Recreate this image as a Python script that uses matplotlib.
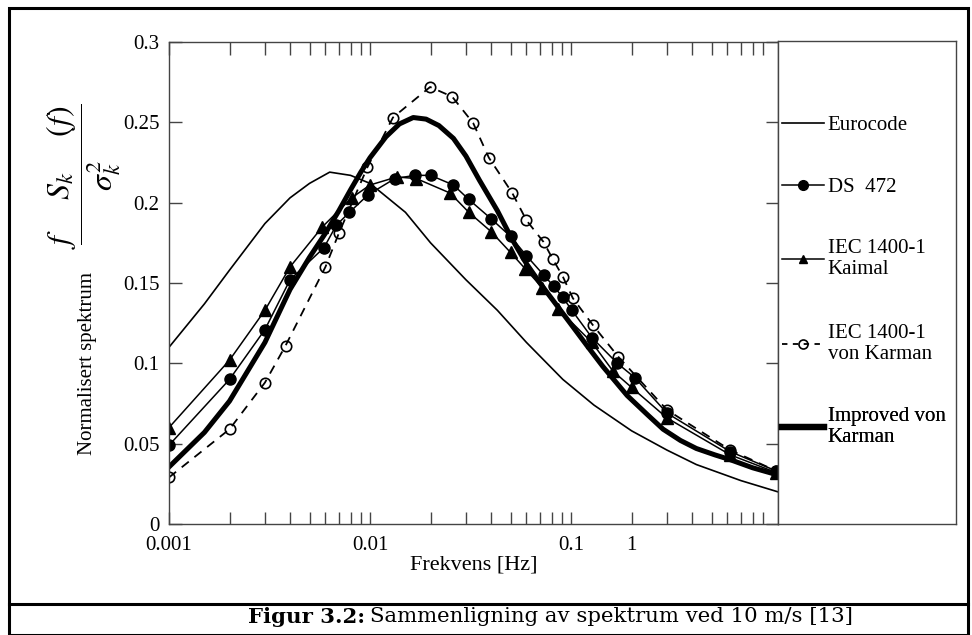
import matplotlib
matplotlib.use('Agg')
import matplotlib.pyplot as plt
from matplotlib.lines import Line2D
from matplotlib.patches import Rectangle

plt.rcParams['font.family'] = ['Liberation Serif', 'DejaVu Serif']
plt.rcParams['mathtext.fontset'] = 'stix'

# Eurocode (tynn linje)
f_euro = [0.001, 0.0015, 0.002, 0.003, 0.004, 0.005, 0.0063, 0.008, 0.01, 0.015, 0.02,
          0.03, 0.043, 0.06, 0.091, 0.13, 0.2, 0.3, 0.42, 0.7, 1.07]
s_euro = [0.110, 0.137, 0.158, 0.187, 0.203, 0.212, 0.219, 0.217, 0.212, 0.194, 0.175,
          0.152, 0.133, 0.113, 0.090, 0.074, 0.058, 0.046, 0.037, 0.027, 0.020]

# DS 472
f_ds = [0.001, 0.002, 0.003, 0.004, 0.0059, 0.0068, 0.0079, 0.0098, 0.0133, 0.0167, 0.02,
        0.026, 0.031, 0.040, 0.050, 0.060, 0.073, 0.082, 0.091, 0.101, 0.127, 0.170, 0.208,
        0.30, 0.62, 1.05]
s_ds = [0.049, 0.090, 0.121, 0.152, 0.172, 0.186, 0.194, 0.205, 0.215, 0.217, 0.217,
        0.211, 0.202, 0.190, 0.179, 0.167, 0.155, 0.148, 0.141, 0.133, 0.116, 0.100, 0.091,
        0.069, 0.045, 0.033]

# IEC 1400-1 Kaimal
f_ka = [0.001, 0.002, 0.003, 0.004, 0.0058, 0.0081, 0.01, 0.0136, 0.017, 0.025, 0.031,
        0.040, 0.050, 0.059, 0.072, 0.086, 0.127, 0.162, 0.20, 0.30, 0.62, 1.05]
s_ka = [0.060, 0.102, 0.133, 0.160, 0.185, 0.203, 0.211, 0.216, 0.215, 0.206, 0.194,
        0.182, 0.169, 0.159, 0.147, 0.134, 0.113, 0.095, 0.085, 0.066, 0.043, 0.032]

# IEC 1400-1 von Karman
f_vk = [0.001, 0.002, 0.003, 0.0038, 0.006, 0.007, 0.0097, 0.013, 0.0199, 0.0256, 0.0326,
        0.039, 0.051, 0.060, 0.073, 0.081, 0.091, 0.102, 0.128, 0.172, 0.30, 0.62, 1.05]
s_vk = [0.029, 0.059, 0.088, 0.111, 0.160, 0.181, 0.222, 0.253, 0.272, 0.266, 0.2495,
        0.228, 0.206, 0.189, 0.1755, 0.165, 0.154, 0.1406, 0.124, 0.104, 0.071, 0.046, 0.033]

# Improved von Karman (tykk linje)
f_imp = [0.001, 0.0015, 0.002, 0.003, 0.004, 0.005, 0.006, 0.007, 0.008, 0.009, 0.01,
         0.012, 0.014, 0.0164, 0.019, 0.022, 0.026, 0.03, 0.035, 0.043, 0.051, 0.06, 0.07,
         0.085, 0.099, 0.12, 0.144, 0.19, 0.24, 0.287, 0.35, 0.42, 0.52, 0.62, 0.8, 1.07]
s_imp = [0.0355, 0.057, 0.0765, 0.113, 0.146, 0.166, 0.181, 0.195, 0.208, 0.219, 0.228,
         0.241, 0.249, 0.253, 0.252, 0.248, 0.240, 0.229, 0.214, 0.195, 0.177, 0.162, 0.150,
         0.136, 0.125, 0.111, 0.098, 0.080, 0.068, 0.059, 0.052, 0.047, 0.043, 0.040, 0.035,
         0.0305]

xticks = [0.001, 0.01, 0.1, 0.2]
xticklabels = ['0.001', '0.01', '0.1', '1']
yticks = [0, 0.05, 0.1, 0.15, 0.2, 0.25, 0.3]
yticklabels = ['0', '0.05', '0.1', '0.15', '0.2', '0.25', '0.3']

W, H = 972, 635
fig = plt.figure(figsize=(W / 100, H / 100), dpi=100)

def fx(px):
    return px / W

def fy(py):
    return 1 - py / H

ax = fig.add_axes([fx(169), fy(524), fx(778) - fx(169), fy(42) - fy(524)])

ax.plot(f_euro, s_euro, color='black', lw=1.2)
ax.plot(f_ds, s_ds, color='black', lw=1.1, marker='o', ms=8, mfc='black', mec='black')
ax.plot(f_ka, s_ka, color='black', lw=1.1, marker='^', ms=8, mfc='black', mec='black')
ax.plot(f_vk, s_vk, color='black', lw=1.3, ls=(0, (5, 4)), marker='o', ms=7.5,
        mfc='none', mec='black', mew=1.2)
ax.plot(f_imp, s_imp, color='black', lw=3.6, solid_joinstyle='round')

ax.set_xscale('log')
ax.set_xlim(0.001, 1.07)
ax.set_ylim(0, 0.3)
ax.set_xticks(xticks)
ax.set_xticklabels(xticklabels)
ax.set_yticks(yticks)
ax.set_yticklabels(yticklabels)
ax.xaxis.set_minor_formatter(plt.NullFormatter())
ax.tick_params(which='both', direction='in', length=9, width=1, color='#444444',
               top=True, right=True, labelsize=15, pad=7)
ax.tick_params(axis='x', which='both', pad=9)
for sp in ax.spines.values():
    sp.set_color('#444444')
    sp.set_linewidth(1)

ax.set_xlabel('Frekvens [Hz]', fontsize=16, labelpad=0)
ax.set_ylabel('Normalisert spektrum', fontsize=15)
ax.yaxis.set_label_coords(-0.118, 0.332)
fig.text(fx(84), fy(176), r'$\dfrac{f\quad\;\; S_k\quad\;\; (f)}{\sigma_k^2}$', rotation=90,
         fontsize=23, ha='center', va='center')

# legend box
axl = fig.add_axes([fx(778), fy(524), fx(956) - fx(778), fy(41) - fy(524)])
axl.set_xticks([])
axl.set_yticks([])
for sp in axl.spines.values():
    sp.set_color('#444444')
    sp.set_linewidth(1)

handles = [
    Line2D([], [], color='black', lw=1.2),
    Line2D([], [], color='black', lw=1.1, marker='o', ms=7, mfc='black'),
    Line2D([], [], color='black', lw=1.1, marker='^', ms=6, mfc='black'),
    Line2D([], [], color='black', lw=1.3, ls=(0, (3, 3)), marker='o', ms=6.5,
           mfc='none', mew=1.2),
    Line2D([], [], color='black', lw=4.5),
]
labels = ['Eurocode', 'DS  472', 'IEC 1400-1\nKaimal', 'IEC 1400-1\nvon Karman',
          'Improved von\nKarman']
label_y = [125, 187, 259, 344, 427]

for h, lab, py in zip(handles, labels, label_y):
    leg = axl.legend([h], [lab], loc='center left',
                     bbox_to_anchor=(4 / 178, (524 - py) / 483),
                     frameon=False, fontsize=15, handlelength=2.0,
                     handletextpad=0.2, borderpad=0, borderaxespad=0,
                     labelspacing=0)
    axl.add_artist(leg)

# ytre ramme og figurtekst
fig.add_artist(Rectangle((fx(9), 0), fx(968) - fx(9), fy(8), transform=fig.transFigure,
                         fill=False, lw=2.2, ec='black'))
fig.add_artist(Line2D([fx(9), fx(968)], [fy(604), fy(604)], transform=fig.transFigure,
                      color='black', lw=2.2))

t1 = fig.text(fx(248), fy(617), 'Figur 3.2:', fontsize=15.3, fontweight='bold',
              family='DejaVu Serif', va='center', ha='left')
fig.canvas.draw()
bb = t1.get_window_extent()
fig.text(bb.x1 / W + fx(5), fy(617), 'Sammenligning av spektrum ved 10 m/s [13]',
         fontsize=15.3, family='DejaVu Serif', va='center', ha='left')

fig.savefig('out.png', dpi=100)
